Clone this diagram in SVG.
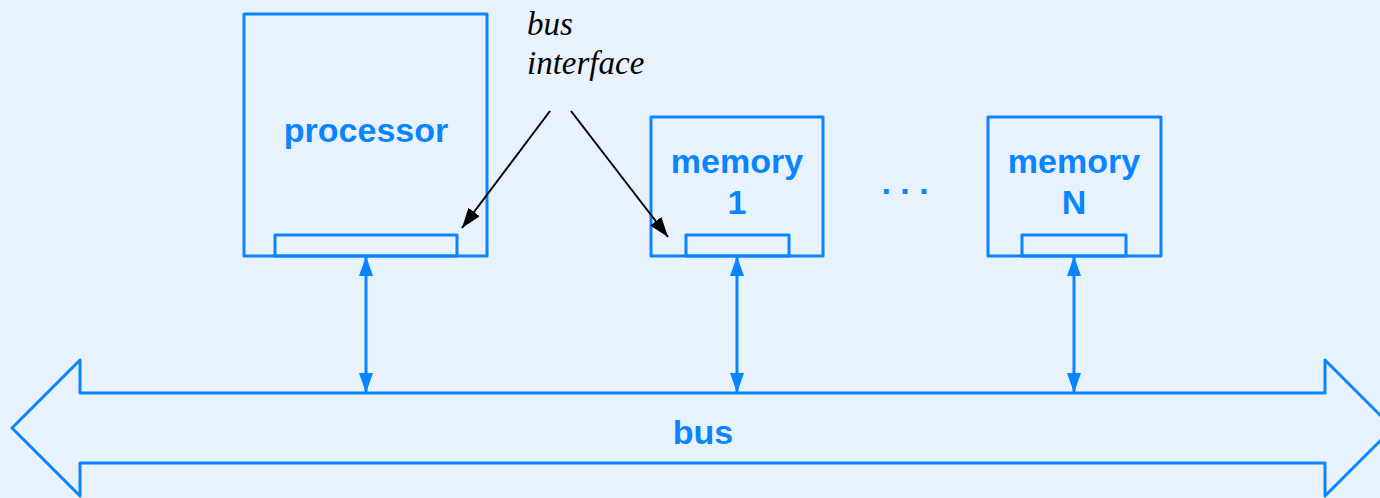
<svg xmlns="http://www.w3.org/2000/svg" width="1380" height="498" viewBox="0 0 1380 498">
<style>
.box{fill:none;stroke:#0a84ff;stroke-width:3;stroke-linejoin:round}
.lbl{font-family:"Liberation Sans",Arial,sans-serif;font-weight:bold;font-size:34px;fill:#0a84ff;text-anchor:middle}
.note{font-family:"Liberation Serif","Times New Roman",serif;font-style:italic;font-size:33px;fill:#000}
.blink{stroke:#0a84ff;stroke-width:3;fill:none;marker-start:url(#bh);marker-end:url(#bh)}
.klink{stroke:#000;stroke-width:2;fill:none;marker-end:url(#kh)}
</style>
<defs>
<marker id="bh" viewBox="0 0 20 14" refX="20" refY="7" markerWidth="20" markerHeight="14" markerUnits="userSpaceOnUse" orient="auto-start-reverse">
<path d="M0,0 L20,7 L0,14 Z" fill="#0a84ff"/>
</marker>
<marker id="kh" viewBox="0 0 20 14" refX="20" refY="7" markerWidth="20" markerHeight="14" markerUnits="userSpaceOnUse" orient="auto">
<path d="M0,0 L20,7 L0,14 Z" fill="#000"/>
</marker>
</defs>
<rect width="1380" height="498" fill="#e8f2fd"/>
<g id="bus">
<path class="box" d="M80,393 L1325,393 L1325,360 L1393,428 L1325,496 L1325,463 L80,463 L80,496 L12,428 L80,360 Z"/>
<text class="lbl" x="703" y="444">bus</text>
</g>
<g id="processor">
<rect class="box" x="244" y="14" width="243" height="242"/>
<rect class="box" x="275" y="235" width="182" height="21"/>
<text class="lbl" x="366" y="142">processor</text>
</g>
<g id="memory1">
<rect class="box" x="651" y="117" width="172" height="139"/>
<rect class="box" x="686" y="235" width="103" height="21"/>
<text class="lbl" x="737" y="173">memory</text>
<text class="lbl" x="737" y="214">1</text>
</g>
<g id="memoryN">
<rect class="box" x="988" y="117" width="173" height="139"/>
<rect class="box" x="1022" y="235" width="104" height="21"/>
<text class="lbl" x="1074" y="173">memory</text>
<text class="lbl" x="1074" y="214">N</text>
</g>
<g id="dots">
<text class="lbl" x="905" y="194">. . .</text>
</g>
<g id="label-bus-interface">
<text class="note" x="527" y="35">bus</text>
<text class="note" x="527" y="74">interface</text>
</g>
<g id="connectors">
<line class="blink" x1="366" y1="256" x2="366" y2="393"/>
<line class="blink" x1="737" y1="256" x2="737" y2="393"/>
<line class="blink" x1="1074" y1="256" x2="1074" y2="393"/>
<line class="klink" x1="550" y1="111" x2="462" y2="228"/>
<line class="klink" x1="571" y1="111" x2="668" y2="237"/>
</g>
</svg>
